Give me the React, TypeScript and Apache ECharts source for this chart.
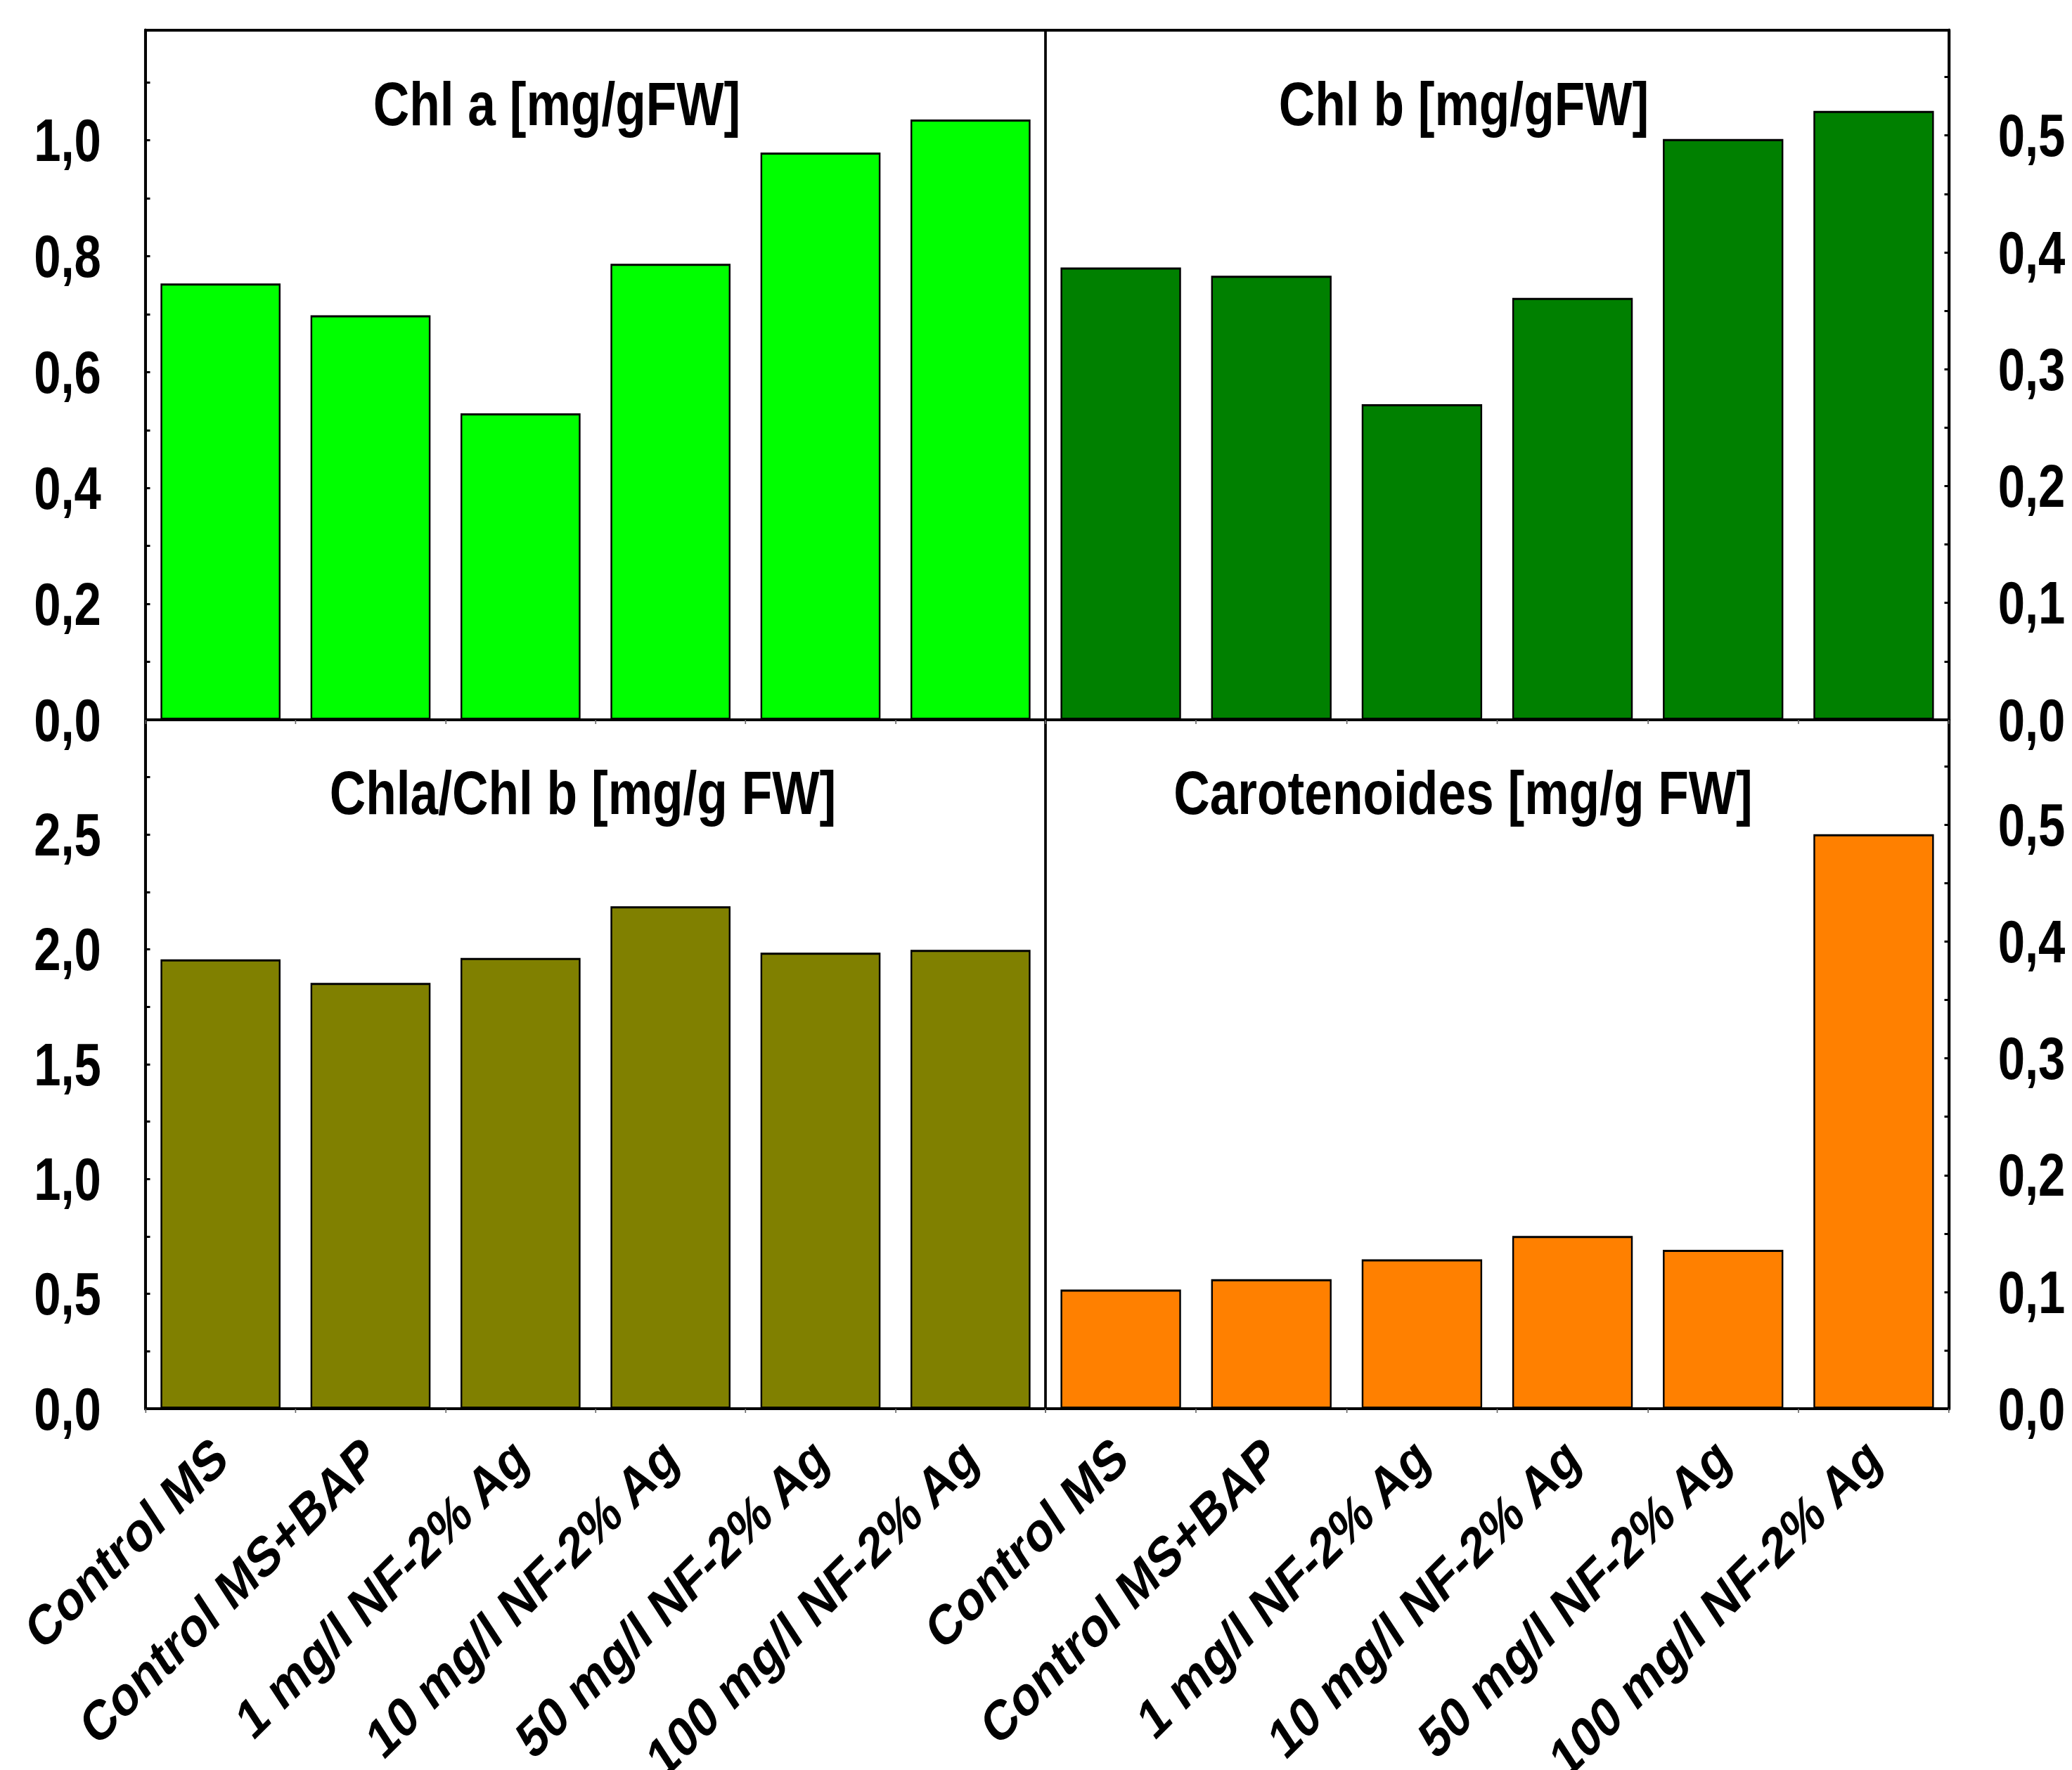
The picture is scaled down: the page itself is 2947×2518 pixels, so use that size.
import React, { useEffect, useRef } from "react";
import * as echarts from "echarts";

// Treatments shown on every panel's category axis
const categories = [
  "Control MS",
  "Control MS+BAP",
  "1 mg/l NF-2% Ag",
  "10 mg/l NF-2% Ag",
  "50 mg/l NF-2% Ag",
  "100 mg/l NF-2% Ag",
];

// Pigment contents per treatment
const chlA = [0.753, 0.698, 0.529, 0.787, 0.979, 1.036];
const chlB = [0.387, 0.380, 0.270, 0.361, 0.497, 0.521];
const chlRatio = [1.957, 1.854, 1.963, 2.188, 1.986, 1.998];
const carotenoids = [0.102, 0.111, 0.128, 0.148, 0.136, 0.492];

// Panel titles
const titles = [
  "Chl a [mg/gFW]",
  "Chl b [mg/gFW]",
  "Chla/Chl b [mg/g FW]",
  "Carotenoides [mg/g FW]",
];

// Value-axis ranges per panel
const axisMax = [1.19, 0.59, 3.0, 0.59];
const axisStep = [0.2, 0.1, 0.5, 0.1];

// The drawing is laid out wide and then squeezed horizontally,
// which gives the condensed lettering and slanted category labels.
const K = 0.81;
const PAGE_W = 2947;
const PAGE_H = 2518;
const CHART_W = PAGE_W / K;

const FONT = "'Liberation Sans', Arial, Helvetica, sans-serif";

export default function App() {
  const ref = useRef<HTMLDivElement>(null);

  useEffect(() => {
    if (!ref.current) return;
    const chart = echarts.init(ref.current, null, { renderer: "svg" });

    const L = 207 / K;
    const M = 1487 / K;
    const R = 2772 / K;
    const T = 43;
    const MID = 1024;
    const B = 2004;

    const grids = [
      { left: L, top: T, width: M - L, height: MID - T },
      { left: M, top: T, width: R - M, height: MID - T },
      { left: L, top: MID, width: M - L, height: B - MID },
      { left: M, top: MID, width: R - M, height: B - MID },
    ].map((g) => ({
      ...g,
      show: true,
      borderColor: "#000",
      borderWidth: 4,
      backgroundColor: "transparent",
      containLabel: false,
      outerBoundsMode: "none",
    }));

    const fmt = (v: number) => v.toFixed(1).replace(".", ",");

    const yAxes = [0, 1, 2, 3].map((i) => ({
      type: "value",
      gridIndex: i,
      position: i % 2 === 0 ? "left" : "right",
      min: 0,
      max: axisMax[i],
      interval: axisStep[i],
      axisLine: { show: true, lineStyle: { color: "#000", width: 5 } },
      axisTick: { show: true, inside: true, length: 8, lineStyle: { color: "#000", width: 3 } },
      minorTick: { show: true, splitNumber: 2, length: 8, lineStyle: { color: "#000", width: 3 } },
      splitLine: { show: false },
      axisLabel: {
        show: true,
        showMaxLabel: false,
        formatter: fmt,
        margin: i % 2 === 0 ? 78 : 86,
        color: "#000",
        fontFamily: FONT,
        fontWeight: "bold",
        fontSize: 85,
      },
    }));

    const xAxes = [0, 1, 2, 3].map((i) => ({
      type: "category",
      gridIndex: i,
      data: categories,
      axisLine: { show: false },
      axisTick: { show: true, length: 6, lineStyle: { color: "#666", width: 2 } },
      axisLabel: {
        show: i >= 2,
        interval: 0,
        rotate: 39,
        margin: 57,
        color: "#000",
        fontFamily: FONT,
        fontWeight: "bold",
        fontSize: 80,
      },
    }));

    const colors = ["#00FF00", "#008000", "#808000", "#FF8000"];
    const datasets = [chlA, chlB, chlRatio, carotenoids];

    const series = datasets.map((d, i) => ({
      type: "bar",
      name: titles[i],
      xAxisIndex: i,
      yAxisIndex: i,
      data: d,
      barCategoryGap: "20%",
      itemStyle: { color: colors[i], borderColor: "#000", borderWidth: 3 },
    }));

    const titlePos = [
      [792 / K, 148],
      [2082 / K, 148],
      [829 / K, 1128],
      [2081 / K, 1128],
    ];

    const graphic = titles.map((t, i) => ({
      type: "text",
      x: titlePos[i][0],
      y: titlePos[i][1],
      silent: true,
      style: {
        text: t,
        fill: "#000",
        font: `bold 88px ${FONT}`,
        textAlign: "center",
        textVerticalAlign: "middle",
      },
    }));

    chart.setOption({
      animation: false,
      backgroundColor: "#fff",
      grid: grids,
      xAxis: xAxes,
      yAxis: yAxes,
      series,
      graphic,
    });

    return () => chart.dispose();
  }, []);

  return (
    <div
      style={{
        position: "fixed",
        left: 0,
        top: 0,
        width: PAGE_W,
        height: PAGE_H,
        overflow: "hidden",
        background: "#fff",
      }}
    >
      <div
        ref={ref}
        style={{
          width: CHART_W,
          height: PAGE_H,
          transform: `scaleX(${K})`,
          transformOrigin: "0 0",
        }}
      />
    </div>
  );
}
